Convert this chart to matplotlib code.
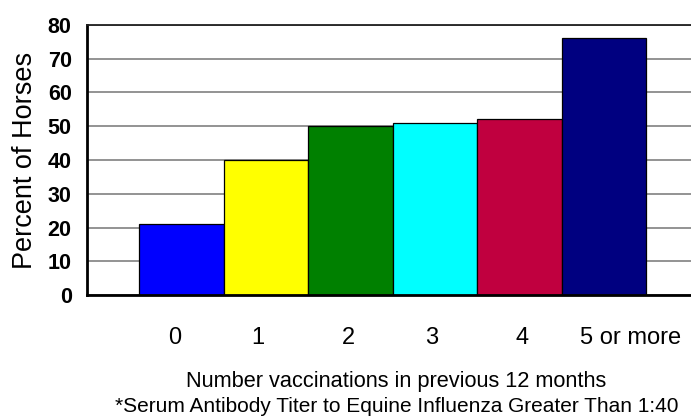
import matplotlib
matplotlib.use("Agg")
import matplotlib.pyplot as plt

plt.rcParams['font.family'] = ['Liberation Sans', 'DejaVu Sans']

categories = ['0', '1', '2', '3', '4', '5 or more']
percent_horses = [21, 40, 50, 51, 52, 76]
bar_colors = ['#0000FF', '#FFFF00', '#008000', '#00FFFF', '#C0003F', '#000080']
y_ticks = [0, 10, 20, 30, 40, 50, 60, 70, 80]

# labels under the bars are not exactly centred in the original
label_shift = [-0.08, -0.1, -0.03, -0.04, 0.03, 0.31]

fig = plt.figure(figsize=(6.91, 4.18), dpi=100)
ax = fig.add_axes([87 / 691, 123 / 418, 604 / 691, 270 / 418])

x = list(range(len(categories)))
ax.bar(x, percent_horses, width=1.0, color=bar_colors, edgecolor='black',
       linewidth=0.9, zorder=2)

ax.set_xlim(-1.12, 6.03)
ax.set_ylim(0, 80)
ax.set_yticks(y_ticks)
ax.set_yticklabels([str(v) for v in y_ticks], fontsize=15.5, fontweight='bold')
ax.tick_params(axis='y', length=0, pad=11)

ax.set_xticks([i + s for i, s in zip(x, label_shift)])
ax.set_xticklabels(categories, fontsize=17)
ax.tick_params(axis='x', length=0, pad=23)

ax.yaxis.grid(True, color='#808080', linewidth=1.2)
ax.set_axisbelow(True)

ax.spines['right'].set_visible(False)
ax.spines['top'].set_color('#202020')
ax.spines['top'].set_linewidth(1.3)
ax.spines['left'].set_linewidth(2)
ax.spines['bottom'].set_linewidth(2)

ax.set_ylabel('Percent of Horses', fontsize=19.5, labelpad=7)

fig.text(396 / 691, 1 - 382 / 418, 'Number vaccinations in previous 12 months',
         ha='center', va='center', fontsize=15.7)
fig.text(397 / 691, 1 - 407 / 418,
         '*Serum Antibody Titer to Equine Influenza Greater Than 1:40',
         ha='center', va='center', fontsize=15)

fig.savefig('out.png', dpi=100)
